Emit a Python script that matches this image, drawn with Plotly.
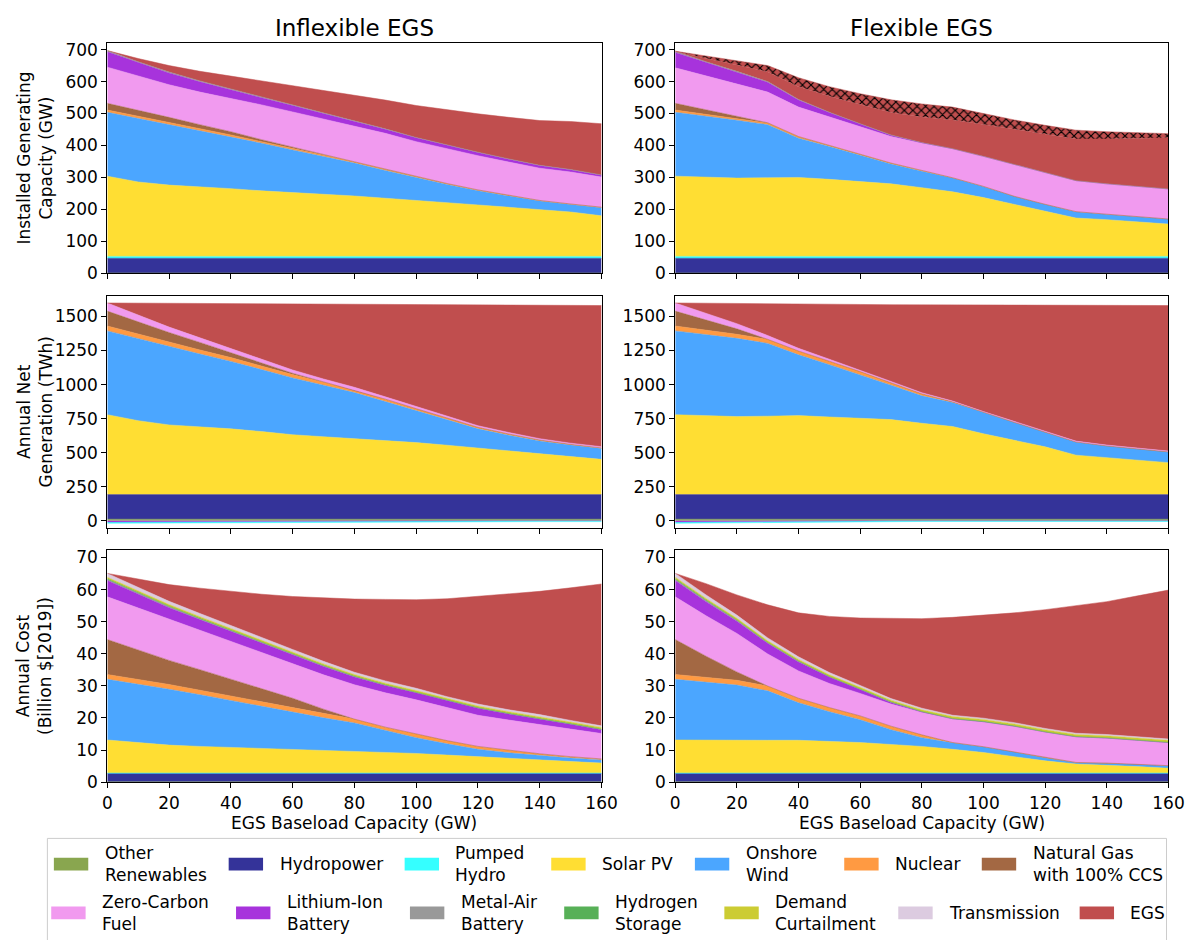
import plotly.graph_objects as go

# ---------------- data ----------------
egs_baseload_gw = [0, 10, 20, 30, 40, 50, 60, 70, 80, 90, 100, 110, 120, 130, 140, 150, 160]
N = len(egs_baseload_gw)

# Installed generating capacity (GW)
cap_other = [1] * N
cap_hydro = [46] * N
cap_pumped = [6] * N
cap_solar_inflex = [251, 233, 223, 218, 212, 205, 200, 194, 189, 182, 176, 168, 161, 153, 145, 139, 127]
cap_wind_inflex = [200, 199, 189, 175, 162, 149, 133, 119, 103, 87, 70, 57, 44, 35, 28, 23, 25]
cap_nuclear_inflex = [7, 7, 6, 6, 6, 5, 5, 5, 4, 4, 4, 3, 3, 3, 2, 2, 2]
cap_ngccs_inflex = [21, 19, 17, 13, 10, 6, 3, 1, 0, 0, 0, 0, 0, 0, 0, 0, 0]
cap_zcf_inflex = [113, 106, 102, 102, 105, 109, 111, 111, 113, 112, 109, 108, 107, 104, 101, 100, 94]
cap_liion_inflex = [48, 42, 37, 32, 27, 23, 20, 17, 14, 13, 12, 11, 10, 9, 8, 7, 6]
cap_metalair_inflex = [4, 3, 3, 3, 2, 2, 2, 2, 2, 1, 1, 1, 1, 1, 1, 1, 1]
cap_egs_inflex = [0, 10, 20, 30, 40, 50, 60, 70, 80, 90, 100, 110, 120, 130, 140, 150, 160]

cap_solar_flex = [251, 248, 245, 246, 247, 241, 235, 227, 215, 202, 184, 163, 140, 120, 115, 109, 101]
cap_wind_flex = [200, 191, 181, 166, 123, 103, 82, 62, 51, 43, 35, 25, 23, 20, 17, 16, 16]
cap_nuclear_flex = [7, 6, 6, 5, 5, 4, 4, 3, 3, 1, 0, 0, 0, 0, 0, 0, 0]
cap_ngccs_flex = [21, 14, 7, 1, 0, 0, 0, 0, 0, 0, 0, 0, 0, 0, 0, 0, 0]
cap_zcf_flex = [111, 105, 100, 96, 92, 88, 85, 83, 85, 90, 94, 99, 98, 97, 95, 94, 94]
cap_liion_flex = [48, 42, 37, 31, 22, 14, 8, 4, 2, 1, 0, 0, 0, 0, 0, 0, 0]
cap_metalair_flex = [4, 3, 3, 2, 2, 1, 1, 1, 0, 0, 0, 0, 0, 0, 0, 0, 0]
cap_egs_flex = [0, 10, 20, 30, 40, 50, 60, 70, 80, 90, 100, 110, 120, 130, 140, 150, 160]
cap_egs_flex_extra = [0, 8, 14, 20, 28, 30, 34, 40, 41, 40, 34, 30, 29, 28, 23, 18, 13]

# Annual net generation (TWh)
gen_other = [12] * N
gen_hydro = [181] * N
gen_solar_inflex = [586, 542, 511, 497, 482, 462, 439, 424, 410, 395, 381, 362, 342, 322, 301, 279, 258]
gen_wind_inflex = [615, 601, 574, 534, 495, 455, 417, 378, 338, 287, 234, 185, 140, 113, 92, 84, 80]
gen_nuclear_inflex = [36, 34, 32, 30, 28, 26, 24, 22, 20, 18, 15, 13, 11, 9, 7, 5, 4]
gen_ngccs_inflex = [109, 90, 72, 55, 38, 22, 10, 3, 0, 0, 0, 0, 0, 0, 0, 0, 0]
gen_zcf_inflex = [60, 48, 40, 34, 30, 27, 24, 21, 19, 17, 15, 13, 12, 11, 10, 9, 9]
gen_egs_inflex = [0, 90, 170, 253, 329, 409, 486, 551, 611, 680, 751, 822, 889, 938, 981, 1012, 1036]
gen_liion_inflex = [-8, -7, -6, -5, -4, -3, -2, -2, -1, -1, 0, 0, 0, 0, 0, 0, 0]
gen_pumped_inflex = [-10, -10, -9, -9, -8, -8, -7, -7, -6, -6, -6, -6, -6, -6, -6, -6, -6]

gen_solar_flex = [586, 579, 572, 575, 579, 569, 559, 550, 523, 499, 446, 397, 350, 289, 272, 253, 234]
gen_wind_flex = [615, 595, 574, 534, 446, 384, 321, 252, 201, 176, 157, 133, 108, 97, 85, 82, 79]
gen_nuclear_flex = [36, 33, 30, 30, 28, 25, 22, 18, 15, 5, 0, 0, 0, 0, 0, 0, 0]
gen_ngccs_flex = [109, 75, 40, 0, 0, 0, 0, 0, 0, 0, 0, 0, 0, 0, 0, 0, 0]
gen_zcf_flex = [60, 48, 38, 28, 20, 15, 12, 10, 8, 6, 6, 6, 6, 6, 6, 6, 6]
gen_egs_flex = [0, 75, 149, 234, 326, 404, 481, 563, 645, 705, 781, 853, 924, 995, 1024, 1046, 1068]
gen_liion_flex = [-8, -6, -5, -3, -2, -1, -1, 0, 0, 0, 0, 0, 0, 0, 0, 0, 0]
gen_pumped_flex = [-10, -10, -9, -8, -7, -6, -5, -5, -5, -5, -5, -5, -5, -5, -5, -5, -5]

# Annual cost (Billion $[2019])
cost_other = [0.1] * N
cost_hydro = [2.6] * N
cost_pumped = [0.15] * N
cost_solar_inflex = [10.3, 9.4, 8.7, 8.3, 8.0, 7.7, 7.4, 7.0, 6.7, 6.4, 6.1, 5.6, 5.1, 4.7, 4.3, 3.8, 3.1]
cost_wind_inflex = [18.9, 18.3, 17.4, 16.1, 14.6, 13.1, 11.5, 10.2, 8.9, 6.8, 4.9, 3.5, 2.3, 1.6, 1.1, 0.9, 1.0]
cost_nuclear_inflex = [1.5, 1.5, 1.5, 1.4, 1.4, 1.3, 1.3, 1.2, 1.2, 1.1, 1.1, 1.0, 0.9, 0.8, 0.6, 0.4, 0.3]
cost_ngccs_inflex = [10.9, 9.2, 7.5, 6.4, 5.3, 4.2, 3.1, 1.5, 0, 0, 0, 0, 0, 0, 0, 0, 0]
cost_zcf_inflex = [13.3, 13.0, 12.8, 12.3, 11.8, 11.2, 10.7, 10.7, 10.7, 10.7, 10.7, 10.2, 9.7, 9.4, 9.2, 8.6, 7.9]
cost_liion_inflex = [5.1, 4.3, 3.6, 3.3, 3.1, 3.0, 2.9, 2.6, 2.4, 2.3, 2.2, 2.2, 2.2, 1.9, 1.7, 1.5, 1.2]
cost_metalair_inflex = [0.3, 0.3, 0.3, 0.2, 0.2, 0.2, 0.2, 0.2, 0.2, 0.1, 0.1, 0.1, 0.1, 0.1, 0.1, 0.1, 0.1]
cost_h2_inflex = [0.2, 0.2, 0.2, 0.2, 0.1, 0.1, 0.1, 0.1, 0.1, 0.1, 0.1, 0.1, 0.1, 0.1, 0.1, 0.1, 0.1]
cost_demand_inflex = [0.5, 0.5, 0.5, 0.5, 0.5, 0.5, 0.5, 0.5, 0.5, 0.5, 0.5, 0.5, 0.5, 0.5, 0.5, 0.5, 0.5]
cost_trans_inflex = [1.2, 1.1, 1.0, 1.0, 0.9, 0.9, 0.8, 0.8, 0.7, 0.7, 0.7, 0.6, 0.6, 0.6, 0.6, 0.5, 0.5]
cost_egs_inflex = [0, 2.7, 5.2, 7.9, 10.7, 13.5, 16.5, 19.7, 22.8, 25.4, 27.6, 30.5, 33.5, 36.0, 38.4, 41.3, 44.2]

cost_solar_flex = [10.3, 10.2, 10.2, 10.2, 10.2, 9.9, 9.5, 8.9, 8.3, 7.4, 6.4, 5.1, 3.8, 2.8, 2.5, 2.0, 1.5]
cost_wind_flex = [18.9, 18.1, 17.2, 15.4, 11.7, 9.2, 7.1, 4.6, 2.7, 2.0, 1.8, 1.5, 1.0, 0.5, 0.6, 0.8, 0.8]
cost_nuclear_flex = [1.5, 1.5, 1.5, 1.5, 1.4, 1.3, 1.2, 1.1, 0.9, 0.1, 0, 0, 0, 0, 0, 0, 0]
cost_ngccs_flex = [10.9, 6.6, 2.6, 0, 0, 0, 0, 0, 0, 0, 0, 0, 0, 0, 0, 0, 0]
cost_zcf_flex = [13.3, 12.6, 12.0, 10.0, 8.5, 7.5, 7.0, 6.9, 7.0, 7.4, 7.8, 8.0, 8.0, 8.0, 7.8, 7.5, 7.2]
cost_liion_flex = [5.1, 4.4, 3.8, 3.3, 2.8, 2.0, 1.2, 0.5, 0.2, 0, 0, 0, 0, 0, 0, 0, 0]
cost_metalair_flex = [0.3, 0.3, 0.3, 0.2, 0.2, 0.1, 0.1, 0.1, 0, 0, 0, 0, 0, 0, 0, 0, 0]
cost_h2_flex = [0.2, 0.2, 0.1, 0.1, 0.1, 0.1, 0.1, 0.1, 0.1, 0.1, 0.1, 0.1, 0.1, 0.1, 0.1, 0.1, 0.1]
cost_demand_flex = [0.5, 0.5, 0.5, 0.5, 0.5, 0.5, 0.5, 0.5, 0.5, 0.6, 0.6, 0.6, 0.6, 0.6, 0.6, 0.6, 0.6]
cost_trans_flex = [1.2, 1.1, 1.0, 0.9, 0.8, 0.7, 0.6, 0.5, 0.5, 0.4, 0.4, 0.4, 0.4, 0.4, 0.4, 0.4, 0.4]
cost_egs_flex = [0, 3.5, 6.3, 10.3, 13.7, 17.5, 21.0, 24.9, 27.9, 30.5, 32.0, 34.2, 37.0, 39.7, 41.4, 43.8, 46.4]

panel_titles = ["Inflexible EGS", "Flexible EGS"]
row_titles = ["Installed Generating<br>Capacity (GW)", "Annual Net<br>Generation (TWh)",
              "Annual Cost<br>(Billion $[2019])"]
x_title = "EGS Baseload Capacity (GW)"

legend_labels = ["Other<br>Renewables", "Hydropower", "Pumped<br>Hydro", "Solar PV", "Onshore<br>Wind",
                 "Nuclear", "Natural Gas<br>with 100% CCS", "Zero-Carbon<br>Fuel", "Lithium-Ion<br>Battery",
                 "Metal-Air<br>Battery", "Hydrogen<br>Storage", "Demand<br>Curtailment", "Transmission", "EGS"]

# ---------------- styling ----------------
COL = {
    "other": "#89a64f", "hydro": "#343399", "pumped": "#35ffff", "solar": "#ffde33",
    "wind": "#4ba6ff", "nuclear": "#ff9a42", "ngccs": "#a36843", "zcf": "#f19aef",
    "liion": "#a733dc", "metalair": "#999999", "h2": "#57b057", "demand": "#cccc33",
    "trans": "#dccbe0", "egs": "#c04e4e",
}
legend_keys = ["other", "hydro", "pumped", "solar", "wind", "nuclear", "ngccs", "zcf", "liion",
               "metalair", "h2", "demand", "trans", "egs"]

W, H = 1203, 940
OFF = 8  # page body margin offset of the figure div
FONT = "DejaVu Sans"
cols_px = [(104, 607), (682, 1184)]
rows_px = [(40, 274), (297, 532), (555, 790)]
yranges = [[0, 722], [-51, 1650], [0, 72.2]]
ydticks = [100, 250, 10]

def fx(p):
    return (p - OFF) / W

def fy(p):
    return 1 - (p - OFF) / H

panels = {
    (0, 0): [("other", cap_other), ("hydro", cap_hydro), ("pumped", cap_pumped), ("solar", cap_solar_inflex),
             ("wind", cap_wind_inflex), ("nuclear", cap_nuclear_inflex), ("ngccs", cap_ngccs_inflex),
             ("zcf", cap_zcf_inflex), ("liion", cap_liion_inflex), ("metalair", cap_metalair_inflex),
             ("egs", cap_egs_inflex)],
    (0, 1): [("other", cap_other), ("hydro", cap_hydro), ("pumped", cap_pumped), ("solar", cap_solar_flex),
             ("wind", cap_wind_flex), ("nuclear", cap_nuclear_flex), ("ngccs", cap_ngccs_flex),
             ("zcf", cap_zcf_flex), ("liion", cap_liion_flex), ("metalair", cap_metalair_flex),
             ("egs", cap_egs_flex), ("egs_hatch", cap_egs_flex_extra)],
    (1, 0): [("other", gen_other), ("hydro", gen_hydro), ("solar", gen_solar_inflex),
             ("wind", gen_wind_inflex), ("nuclear", gen_nuclear_inflex), ("ngccs", gen_ngccs_inflex),
             ("zcf", gen_zcf_inflex), ("egs", gen_egs_inflex)],
    (1, 1): [("other", gen_other), ("hydro", gen_hydro), ("solar", gen_solar_flex),
             ("wind", gen_wind_flex), ("nuclear", gen_nuclear_flex), ("ngccs", gen_ngccs_flex),
             ("zcf", gen_zcf_flex), ("egs", gen_egs_flex)],
    (2, 0): [("other", cost_other), ("hydro", cost_hydro), ("pumped", cost_pumped), ("solar", cost_solar_inflex),
             ("wind", cost_wind_inflex), ("nuclear", cost_nuclear_inflex), ("ngccs", cost_ngccs_inflex),
             ("zcf", cost_zcf_inflex), ("liion", cost_liion_inflex), ("metalair", cost_metalair_inflex),
             ("h2", cost_h2_inflex), ("demand", cost_demand_inflex), ("trans", cost_trans_inflex),
             ("egs", cost_egs_inflex)],
    (2, 1): [("other", cost_other), ("hydro", cost_hydro), ("pumped", cost_pumped), ("solar", cost_solar_flex),
             ("wind", cost_wind_flex), ("nuclear", cost_nuclear_flex), ("ngccs", cost_ngccs_flex),
             ("zcf", cost_zcf_flex), ("liion", cost_liion_flex), ("metalair", cost_metalair_flex),
             ("h2", cost_h2_flex), ("demand", cost_demand_flex), ("trans", cost_trans_flex),
             ("egs", cost_egs_flex)],
}
negatives = {
    (1, 0): [("liion", gen_liion_inflex), ("pumped", gen_pumped_inflex)],
    (1, 1): [("liion", gen_liion_flex), ("pumped", gen_pumped_flex)],
}

fig = go.Figure()
layout_axes = {}
for r in range(3):
    for c in range(2):
        idx = r * 2 + c + 1
        xs = "" if idx == 1 else str(idx)
        x0, x1 = cols_px[c]
        y0, y1 = rows_px[r]
        layout_axes["xaxis" + xs] = dict(
            domain=[fx(x0), fx(x1)], anchor="y" + xs, range=[0, 160], dtick=20, tick0=0,
            showticklabels=(r == 2), ticks="outside", ticklen=5, tickwidth=1, tickcolor="black",
            showline=True, linecolor="black", linewidth=1, mirror=True, showgrid=False, zeroline=False,
            tickfont=dict(family=FONT, size=17, color="black"),
        )
        layout_axes["yaxis" + xs] = dict(
            domain=[fy(y1), fy(y0)], anchor="x" + xs, range=yranges[r], dtick=ydticks[r], tick0=0,
            ticks="outside", ticklen=5, tickwidth=1, tickcolor="black",
            showline=True, linecolor="black", linewidth=1, mirror=True, showgrid=False, zeroline=False,
            tickfont=dict(family=FONT, size=17, color="black"),
        )
        for key, vals in panels[(r, c)]:
            hatch = key == "egs_hatch"
            color = COL["egs"] if hatch else COL[key]
            kw = dict(
                x=egs_baseload_gw, y=vals, mode="lines", stackgroup="p%d" % idx,
                line=dict(width=0.5, color=color), fillcolor=color, showlegend=False,
                xaxis="x" + xs, yaxis="y" + xs, hoverinfo="skip",
            )
            if hatch:
                kw["fillpattern"] = dict(shape="x", fgcolor="black", bgcolor=COL["egs"],
                                         size=6, solidity=0.35, fillmode="replace")
            fig.add_trace(go.Scatter(**kw))
        for key, vals in negatives.get((r, c), []):
            fig.add_trace(go.Scatter(
                x=egs_baseload_gw, y=vals, mode="lines", stackgroup="n%d" % idx,
                line=dict(width=0.5, color=COL[key]), fillcolor=COL[key], showlegend=False,
                xaxis="x" + xs, yaxis="y" + xs, hoverinfo="skip",
            ))

annotations = []
shapes = []
for c in range(2):
    annotations.append(dict(text=panel_titles[c], x=fx(sum(cols_px[c]) / 2), y=fy(25), xref="paper",
                            yref="paper", showarrow=False, xanchor="center", yanchor="middle",
                            font=dict(family=FONT, size=23, color="black")))
    annotations.append(dict(text=x_title, x=fx(sum(cols_px[c]) / 2), y=fy(831), xref="paper",
                            yref="paper", showarrow=False, xanchor="center", yanchor="middle",
                            font=dict(family=FONT, size=17, color="black")))
for r in range(3):
    annotations.append(dict(text=row_titles[r], x=fx(30), y=fy(sum(rows_px[r]) / 2), xref="paper",
                            yref="paper", showarrow=False, xanchor="center", yanchor="middle",
                            textangle=-90, font=dict(family=FONT, size=17, color="black")))

# legend (frame, patches, labels)
shapes.append(dict(type="rect", xref="paper", yref="paper", x0=fx(43), x1=fx(1182), y0=fy(847), y1=fy(965),
                   line=dict(color="#cccccc", width=1), fillcolor="rgba(255,255,255,0.8)", layer="above"))
patch_x = [49.6, 227.5, 406.6, 555.8, 702, 854, 994, 46.9, 235, 412, 569, 732, 909, 1093.6]
row_cy = [873, 922.5]
for i, (lab, key) in enumerate(zip(legend_labels, legend_keys)):
    ry = row_cy[i // 7]
    px = patch_x[i]
    shapes.append(dict(type="rect", xref="paper", yref="paper", x0=fx(px), x1=fx(px + 35),
                       y0=fy(ry + 6.5), y1=fy(ry - 6.5), line=dict(width=0), fillcolor=COL[key],
                       layer="above"))
    annotations.append(dict(text=lab, x=fx(px + 49.7), y=fy(ry), xref="paper", yref="paper",
                            showarrow=False, xanchor="left", yanchor="middle", align="left",
                            font=dict(family=FONT, size=17, color="black")))

fig.update_layout(
    width=W, height=H, margin=dict(l=0, r=0, t=0, b=0), autosize=False,
    paper_bgcolor="white", plot_bgcolor="white", showlegend=False,
    font=dict(family=FONT, size=17, color="black"),
    annotations=annotations, shapes=shapes, **layout_axes,
)

fig.write_html("out.html")
